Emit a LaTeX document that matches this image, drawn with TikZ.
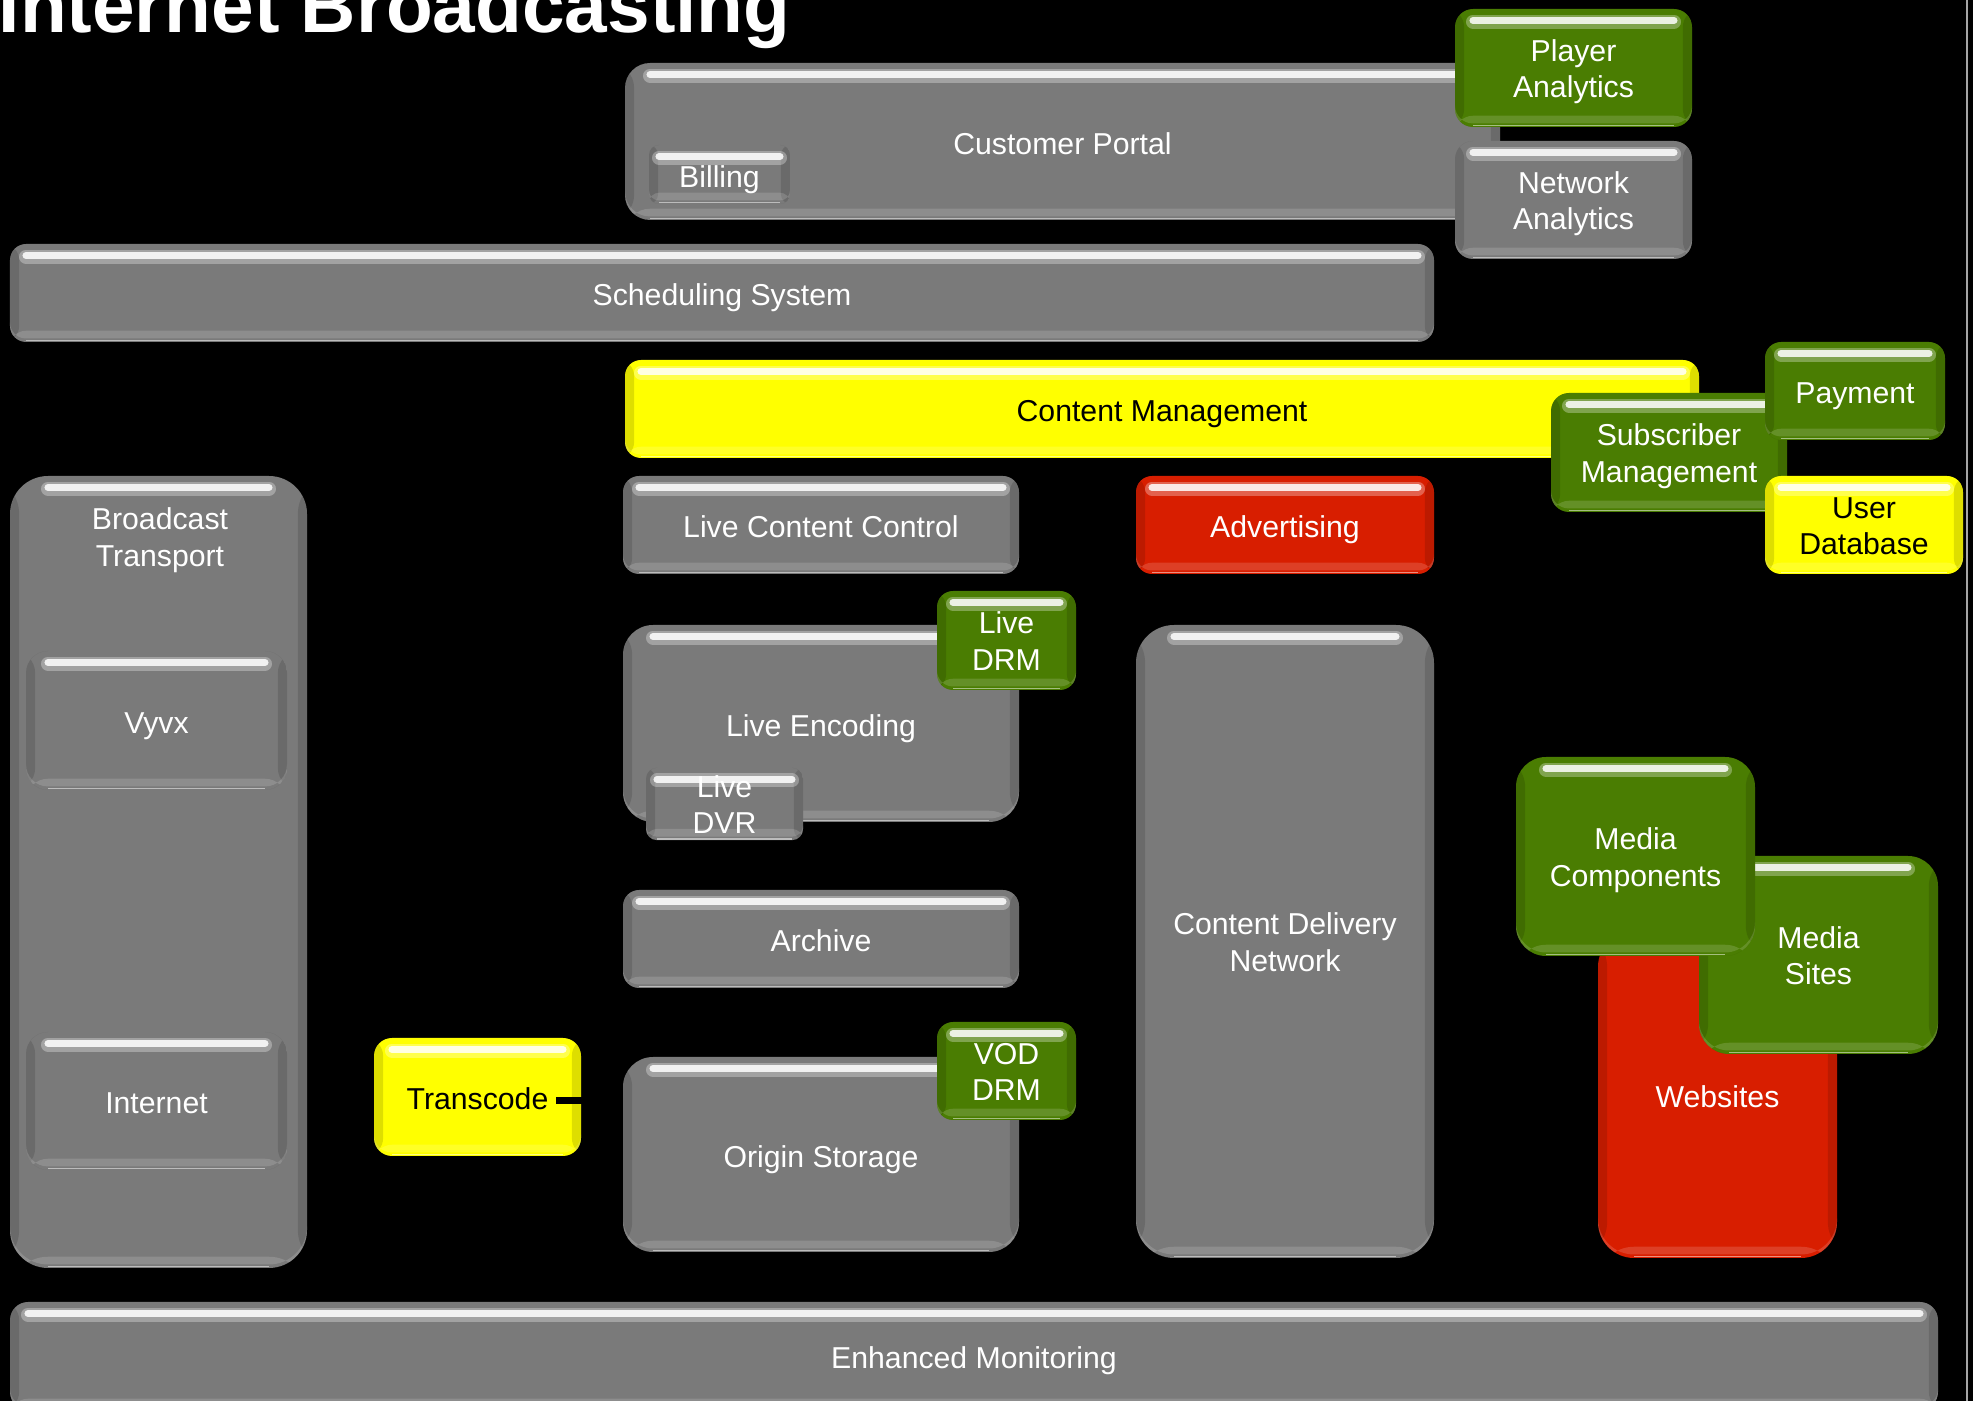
\documentclass[tikz,border=0pt]{standalone}
\usepackage{fontspec}
\setmainfont{Liberation Sans}
\usepackage{tikz}
\usetikzlibrary{positioning}
\definecolor{tilegray}{HTML}{7A7A7A}
\definecolor{tilegreen}{HTML}{4A7D02}
\definecolor{tilered}{HTML}{D81E00}
\definecolor{tileyellow}{HTML}{FFFF00}
\tikzset{tile/.style = {shape=rectangle, rounded corners=#1, fill=tilegray,
text=white, align=center, inner sep=0pt, outer sep=0pt,
font=\fontsize{8.6}{10.4}\selectfont,
execute at begin node={\rule{0pt}{9.1pt}},
execute at end node={\rule[-1.8pt]{0pt}{0pt}},
path picture={
\fill[black, opacity=.13] (path picture bounding box.south west) rectangle ([xshift=2.6pt]path picture bounding box.north west);
\fill[black, opacity=.13] ([xshift=-2.6pt]path picture bounding box.south east) rectangle (path picture bounding box.north east);
\fill[white, opacity=.15] ([yshift=1pt]path picture bounding box.south west) rectangle ([yshift=3.2pt]path picture bounding box.south east);
\draw[white, opacity=.5, line width=.5pt] ([xshift=#1, yshift=.4pt]path picture bounding box.south west) -- ([xshift=-#1, yshift=.4pt]path picture bounding box.south east);
\draw[white, opacity=.3, line width=4pt, line cap=round] ([xshift=#1, yshift=-3.6pt]path picture bounding box.north west) -- ([xshift=-#1, yshift=-3.6pt]path picture bounding box.north east);
\draw[white, opacity=.85, line width=2pt, line cap=round] ([xshift=#1, yshift=-3.3pt]path picture bounding box.north west) -- ([xshift=-#1, yshift=-3.3pt]path picture bounding box.north east);
}},
tile/.default=0.16cm,
twoline/.style = {execute at begin node={\rule{0pt}{18.8pt}}},
greentile/.style = {tile=#1, fill=tilegreen},
greentile/.default=0.16cm,
redtile/.style = {tile=#1, fill=tilered},
redtile/.default=0.16cm,
yellowtile/.style = {tile=#1, fill=tileyellow, text=black},
yellowtile/.default=0.16cm}

\begin{document}
\begin{tikzpicture}
                \useasboundingbox (0,0) rectangle (19.73,-14.01);
                \fill[black] (0,0) rectangle (19.73,-14.01);
                \draw[gray!70, line width=.6pt] (19.67,0) -- (19.67,-14.01);

                \node[anchor=base west, inner sep=0pt, text=white, font=\fontsize{21.8}{26}\selectfont\bfseries] (title) at (-0.02,-0.33) {Internet Broadcasting};

                \node[tile=0.25cm, minimum width=8.75cm, minimum height=1.57cm] (portal) at (10.625,-1.415) {Customer Portal};
                \node[tile=0.1cm, minimum width=1.41cm, minimum height=0.59cm] (billing) at (7.195,-1.745) {Billing};
                \node[greentile=0.18cm, twoline, minimum width=2.37cm, minimum height=1.18cm] (player) at (15.735,-0.68) {Player\\Analytics};
                \node[tile=0.18cm, twoline, minimum width=2.37cm, minimum height=1.18cm] (network) at (15.735,-2.0) {Network\\Analytics};

                \node[tile, minimum width=14.24cm, minimum height=0.98cm] (sched) at (7.22,-2.93) {Scheduling System};

                \node[yellowtile, minimum width=10.74cm, minimum height=0.98cm] (content) at (11.62,-4.09) {Content Management};
                \node[greentile=0.18cm, twoline, minimum width=2.36cm, minimum height=1.19cm] (subscr) at (16.69,-4.525) {Subscriber\\Management};
                \node[greentile, minimum width=1.80cm, minimum height=0.98cm] (payment) at (18.55,-3.91) {Payment};
                \node[yellowtile, twoline, minimum width=1.98cm, minimum height=0.98cm] (userdb) at (18.64,-5.25) {User\\Database};

                \node[tile=0.38cm, minimum width=2.97cm, minimum height=7.92cm] (broadcast) at (1.585,-8.72) {};
                \node[text=white, align=center, inner sep=0pt, font=\fontsize{8.6}{10.4}\selectfont] (broadcastlabel) at (1.6,-5.4) {Broadcast\\Transport};
                \node[tile=0.22cm, minimum width=2.61cm, minimum height=1.39cm] (vyvx) at (1.565,-7.205) {Vyvx};
                \node[tile=0.22cm, minimum width=2.61cm, minimum height=1.38cm] (internet) at (1.565,-11.01) {Internet};

                \node[yellowtile=0.18cm, minimum width=2.07cm, minimum height=1.18cm] (transcode) at (4.775,-10.97) {Transcode};

                \node[tile, minimum width=3.96cm, minimum height=0.98cm] (livecc) at (8.21,-5.25) {Live Content Control};
                \node[redtile, minimum width=2.98cm, minimum height=0.98cm] (advert) at (12.85,-5.25) {Advertising};

                \node[tile=0.3cm, minimum width=3.96cm, minimum height=1.97cm] (liveenc) at (8.21,-7.235) {Live Encoding};
                \node[greentile, twoline, minimum width=1.39cm, minimum height=0.99cm] (livedrm) at (10.065,-6.405) {Live\\DRM};
                \node[tile=0.11cm, twoline, minimum width=1.57cm, minimum height=0.70cm] (livedvr) at (7.245,-8.04) {Live\\DVR};

                \node[tile, minimum width=3.96cm, minimum height=0.98cm] (archive) at (8.21,-9.39) {Archive};

                \node[tile=0.3cm, minimum width=3.96cm, minimum height=1.95cm] (origin) at (8.21,-11.545) {Origin Storage};
                \node[greentile, twoline, minimum width=1.39cm, minimum height=0.98cm] (voddrm) at (10.065,-10.71) {VOD\\DRM};

                \node[tile=0.38cm, twoline, minimum width=2.98cm, minimum height=6.33cm] (cdn) at (12.85,-9.415) {Content Delivery\\Network};

                \node[redtile=0.36cm, minimum width=2.39cm, minimum height=3.27cm] (websites) at (17.175,-10.945) {Websites};
                \node[greentile=0.3cm, twoline, minimum width=2.39cm, minimum height=1.98cm] (mediasites) at (18.185,-9.55) {Media\\Sites};
                \node[greentile=0.3cm, twoline, minimum width=2.39cm, minimum height=1.99cm] (mediacomp) at (16.355,-8.565) {Media\\Components};

                \node[tile=0.18cm, minimum width=19.28cm, minimum height=1.08cm] (monitor) at (9.74,-13.56) {Enhanced Monitoring};

                \coordinate (tcout) at ([xshift=-7pt, yshift=-1pt]transcode.east);
                \coordinate (origintip) at (tcout -| origin.west);
                \draw[black, line width=1.8pt] (tcout) to (origintip);
            \end{tikzpicture}
\end{document}
